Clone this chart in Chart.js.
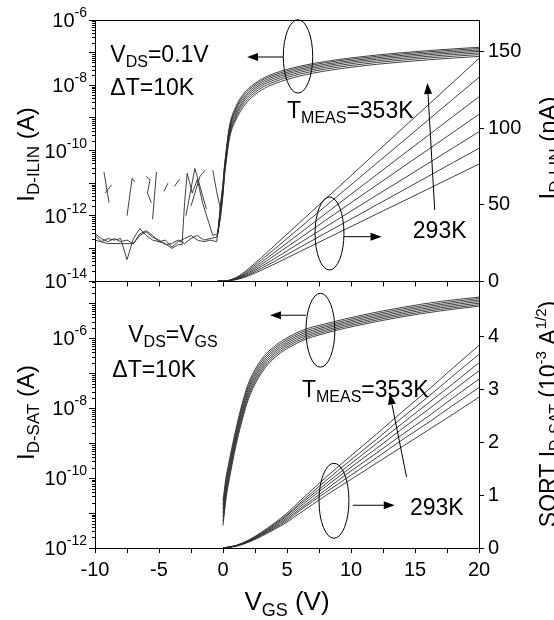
<!DOCTYPE html>
<html>
<head>
<meta charset="utf-8">
<title>ID-VGS temperature sweep</title>
<script src="https://cdn.jsdelivr.net/npm/chart.js"></script>
<style>
body{margin:0;background:#fff;}
#wrap{position:relative;width:554px;height:620px;}
</style>
</head>
<body>
<div id="wrap"><canvas id="c" width="554" height="620"></canvas></div>
<script>
const FONT = "'Liberation Sans', Arial, Helvetica, sans-serif";
const CURVE = '#2b2b2b';

// measurement temperatures, 293 K .. 353 K
const TEMPS = [293, 303, 313, 323, 333, 343, 353];

// linear regime (VDS = 0.1 V), drain current in nA
const VGS_LIN = [-0.4, -0.2, 0, 0.1, 0.25, 0.5, 1, 1.5, 2, 3, 4, 6, 8, 10, 12, 14, 16, 18, 20];
const ILIN_293 = [0.0003, 0.0009, 0.0045, 0.014, 0.045, 0.23, 0.85, 1.9, 3.4, 7.1, 11.0, 19.2, 27.4, 35.6, 43.8, 51.9, 60.1, 68.3, 76.5];
const ILIN_303 = [0.0003, 0.001, 0.005, 0.016, 0.052, 0.27, 1.0, 2.3, 4.0, 8.3, 12.7, 22.0, 31.3, 40.5, 49.8, 59.0, 68.3, 77.6, 86.8];
const ILIN_313 = [0.0003, 0.0012, 0.006, 0.018, 0.06, 0.31, 1.2, 2.7, 4.7, 9.6, 14.5, 24.9, 35.3, 45.7, 56.1, 66.4, 76.8, 87.2, 97.6];
const ILIN_323 = [0.0003, 0.0014, 0.007, 0.02, 0.07, 0.36, 1.4, 3.1, 5.4, 10.9, 16.5, 28.0, 39.6, 51.2, 62.7, 74.3, 85.8, 97.4, 109.0];
const ILIN_333 = [0.0003, 0.0016, 0.008, 0.023, 0.08, 0.42, 1.7, 3.6, 6.2, 12.3, 18.5, 31.2, 44.0, 56.7, 69.5, 82.3, 95.0, 107.8, 120.5];
const ILIN_343 = [0.0003, 0.0018, 0.009, 0.026, 0.09, 0.48, 1.9, 4.2, 7.1, 13.8, 20.7, 34.8, 48.9, 62.9, 77.0, 91.0, 105.1, 119.2, 133.2];
const ILIN_353 = [0.0003, 0.002, 0.01, 0.03, 0.1, 0.55, 2.2, 4.8, 8.0, 15.3, 23.0, 38.3, 53.6, 68.9, 84.3, 99.6, 114.9, 130.2, 145.6];

// off-state noise floor at VDS = 0.1 V, A
const VGS_OFF_A = [-10, -9.5, -9, -8.5, -8, -7.5, -7, -6.5, -6, -5.5, -5, -4.5, -4, -3.5, -3, -2.5, -2, -1.5, -1, -0.5, -0.4];
const IOFF_A = [2.5e-13, 1.6e-13, 2.0e-13, 1.8e-13, 2.0e-13, 4.5e-14, 2.0e-13, 4.0e-13, 2.5e-13, 1.8e-13, 1.6e-13, 1.8e-13, 1.1e-13, 1.6e-13, 2.0e-13, 2.5e-13, 1.8e-13, 1.6e-13, 1.8e-13, 1.6e-13, 3.0e-13];
const IOFF_C = [2.8e-13, 2.0e-13, 1.6e-13, 2.0e-13, 1.6e-13, 1.8e-13, 1.4e-13, 2.5e-13, 3.2e-13, 2.2e-13, 1.8e-13, 1.3e-13, 1.4e-13, 1.8e-13, 1.4e-13, 2.0e-13, 2.5e-13, 1.8e-13, 2.0e-13, 2.2e-13, 3.0e-13];
const VGS_OFF_B = [-10, -9, -8, -7, -6.5, -6, -5.5, -5, -4.5, -4, -3.5, -3.2, -3.0, -2.8, -2.4, -2.0, -1.6, -1.2, -0.8, -0.4];
const IOFF_B = [1.8e-13, 1.4e-13, 1.4e-13, 1.4e-13, 2.8e-13, 3.5e-13, 2.5e-13, 1.6e-13, 1.4e-13, 1.0e-13, 1.3e-13, 1.3e-13, 2.5e-12, 2.0e-11, 5.0e-12, 1.3e-11, 2.5e-12, 7.9e-13, 2.5e-13, 2.8e-13];
// broken (partly negative) off-state sweeps, null = gap
const VGS_SPIKE = [-9.3, -8.9, null, -9.2, -8.7, null, -7.5, -7.1, -6.9, null, -6.0, -5.7, -5.9, -5.6, null, -5.5, -5.2, null, -4.6, -4.3, null, -3.8, -3.4, null, -2.9, -2.2, -1.9, -1.3, null, -2.5, -1.8, -1.4, null, -0.8, -0.5, -0.2];
const ISPIKE = [2.2e-11, 2.5e-12, null, 5.0e-12, 8.9e-12, null, 1.0e-12, 1.4e-11, 1.1e-11, null, 1.6e-11, 1.3e-11, 5.0e-12, 2.5e-12, null, 7.9e-13, 2.2e-11, null, 5.6e-12, 1.0e-11, null, 7.9e-12, 1.3e-11, null, 1.0e-12, 2.8e-11, 1.1e-11, 1.6e-12, null, 2.0e-12, 1.6e-11, 2.5e-11, null, 2.5e-11, 5.6e-12, 1.6e-12];

// saturation regime (VDS = VGS), drain current in A
const VGS_SAT = [0, 0.25, 0.5, 1, 1.5, 2, 3, 4, 6, 8, 11, 14, 17, 20];
const ISAT_293 = [4.37e-12, 2.82e-11, 9.55e-11, 8.13e-10, 4.57e-9, 1.88e-8, 1.01e-7, 2.72e-7, 7.94e-7, 1.40e-6, 2.54e-6, 4.12e-6, 6.10e-6, 8.32e-6];
const ISAT_303 = [5.75e-12, 3.55e-11, 1.17e-10, 9.77e-10, 5.50e-9, 2.24e-8, 1.17e-7, 3.09e-7, 8.91e-7, 1.55e-6, 2.82e-6, 4.57e-6, 6.76e-6, 9.12e-6];
const ISAT_313 = [7.59e-12, 4.47e-11, 1.45e-10, 1.17e-9, 6.61e-9, 2.66e-8, 1.36e-7, 3.51e-7, 1.00e-6, 1.72e-6, 3.13e-6, 5.07e-6, 7.50e-6, 1.01e-5];
const ISAT_323 = [1.00e-11, 5.62e-11, 1.78e-10, 1.41e-9, 7.94e-9, 3.16e-8, 1.58e-7, 3.98e-7, 1.12e-6, 1.91e-6, 3.47e-6, 5.62e-6, 8.32e-6, 1.12e-5];
const ISAT_333 = [1.32e-11, 7.08e-11, 2.19e-10, 1.70e-9, 9.55e-9, 3.76e-8, 1.84e-7, 4.52e-7, 1.26e-6, 2.11e-6, 3.85e-6, 6.24e-6, 9.23e-6, 1.24e-5];
const ISAT_343 = [1.74e-11, 8.91e-11, 2.69e-10, 2.04e-9, 1.15e-8, 4.47e-8, 2.14e-7, 5.13e-7, 1.41e-6, 2.34e-6, 4.27e-6, 6.92e-6, 1.02e-5, 1.38e-5];
const ISAT_353 = [2.29e-11, 1.12e-10, 3.31e-10, 2.45e-9, 1.38e-8, 5.31e-8, 2.48e-7, 5.82e-7, 1.58e-6, 2.60e-6, 4.73e-6, 7.67e-6, 1.14e-5, 1.51e-5];

// saturation regime, SQRT(ID) in 1e-3 A^1/2
const VGS_SQRT = [0, 1, 2, 3, 4, 5, 6, 8, 10, 12, 14, 16, 18, 20];
const SQRT_293 = [0, 0.03, 0.11, 0.22, 0.35, 0.49, 0.66, 0.99, 1.30, 1.61, 1.92, 2.23, 2.54, 2.86];
const SQRT_303 = [0, 0.04, 0.12, 0.24, 0.37, 0.52, 0.71, 1.05, 1.38, 1.71, 2.05, 2.37, 2.71, 3.04];
const SQRT_313 = [0, 0.04, 0.12, 0.25, 0.39, 0.55, 0.74, 1.10, 1.46, 1.80, 2.15, 2.49, 2.85, 3.20];
const SQRT_323 = [0, 0.04, 0.13, 0.26, 0.41, 0.58, 0.78, 1.16, 1.53, 1.89, 2.26, 2.62, 2.99, 3.36];
const SQRT_333 = [0, 0.04, 0.14, 0.27, 0.43, 0.61, 0.82, 1.21, 1.60, 1.98, 2.36, 2.74, 3.12, 3.51];
const SQRT_343 = [0, 0.04, 0.14, 0.28, 0.45, 0.63, 0.85, 1.27, 1.67, 2.06, 2.47, 2.86, 3.27, 3.67];
const SQRT_353 = [0, 0.05, 0.15, 0.30, 0.47, 0.66, 0.89, 1.33, 1.75, 2.16, 2.58, 2.99, 3.42, 3.84];

// axis ticks
const TOP_LOG_LABELS = [-14, -12, -10, -8, -6];
const BOT_LOG_LABELS = [-12, -10, -8, -6];
const TOP_LIN_TICKS = [0, 50, 100, 150];
const BOT_SQRT_TICKS = [0, 1, 2, 3, 4];

const ILIN = [ILIN_293, ILIN_303, ILIN_313, ILIN_323, ILIN_333, ILIN_343, ILIN_353];
const ISAT = [ISAT_293, ISAT_303, ISAT_313, ISAT_323, ISAT_333, ISAT_343, ISAT_353];
const SQRT = [SQRT_293, SQRT_303, SQRT_313, SQRT_323, SQRT_333, SQRT_343, SQRT_353];

function pts(xs, ys, k) {
  return xs.map((x, i) => ({x: x, y: ys[i] == null ? null : ys[i] * (k || 1)}));
}
function curve(label, data, axis, smooth) {
  return {label: label, data: data, yAxisID: axis, borderColor: CURVE, borderWidth: 0.9,
    pointRadius: 0, fill: false, spanGaps: false,
    cubicInterpolationMode: smooth ? 'monotone' : 'default', tension: 0};
}

const datasets = [];
TEMPS.forEach((t, i) => {
  datasets.push(curve(t + ' K lin log', pts(VGS_LIN, ILIN[i], 1e-9), 'yTopL', true));
  datasets.push(curve(t + ' K lin', pts(VGS_LIN, ILIN[i]), 'yTopR', true));
  datasets.push(curve(t + ' K sat log', pts(VGS_SAT, ISAT[i]), 'yBotL', true));
  datasets.push(curve(t + ' K sqrt', pts(VGS_SQRT, SQRT[i]), 'yBotR', true));
});
datasets.push(curve('off A', pts(VGS_OFF_A, IOFF_A), 'yTopL', false));
datasets.push(curve('off B', pts(VGS_OFF_B, IOFF_B), 'yTopL', false));
datasets.push(curve('off C', pts(VGS_OFF_A, IOFF_C), 'yTopL', false));
datasets.push(curve('off broken', pts(VGS_SPIKE, ISPIKE), 'yTopL', false));

// ---------- text helpers ----------
function T(t, size) { return {t: t, size: size, dy: 0}; }
function sub(t, size, dy) { return {t: t, size: size, dy: dy}; }
function sup(t, size, dy) { return {t: t, size: size, dy: -dy}; }
function rich(ctx, parts, x, y, align, angle) {
  ctx.save();
  ctx.translate(x, y);
  if (angle) ctx.rotate(angle);
  ctx.textBaseline = 'alphabetic';
  ctx.textAlign = 'left';
  let w = 0;
  parts.forEach(p => { ctx.font = p.size + 'px ' + FONT; p.w = ctx.measureText(p.t).width; w += p.w; });
  let cx = align === 'center' ? -w / 2 : align === 'right' ? -w : 0;
  parts.forEach(p => { ctx.font = p.size + 'px ' + FONT; ctx.fillText(p.t, cx, p.dy); cx += p.w; });
  ctx.restore();
}
function seg(ctx, x1, y1, x2, y2) {
  ctx.beginPath(); ctx.moveTo(x1, y1); ctx.lineTo(x2, y2); ctx.stroke();
}
function arrow(ctx, x1, y1, x2, y2) {
  const a = Math.atan2(y2 - y1, x2 - x1), L = 11, W = 4;
  const bx = x2 - L * Math.cos(a), by = y2 - L * Math.sin(a);
  seg(ctx, x1, y1, bx, by);
  ctx.beginPath();
  ctx.moveTo(x2, y2);
  ctx.lineTo(bx + W * Math.sin(a), by - W * Math.cos(a));
  ctx.lineTo(bx - W * Math.sin(a), by + W * Math.cos(a));
  ctx.closePath(); ctx.fill();
}
function oval(ctx, xs, ys, cx, cy, rx, ry) {
  const px = xs.getPixelForValue(cx), py = ys.getPixelForValue(cy);
  const rpx = Math.abs(xs.getPixelForValue(cx + rx) - px);
  const rpy = Math.abs(ys.getPixelForValue(cy + ry) - py);
  ctx.beginPath(); ctx.ellipse(px, py, rpx, rpy, 0, 0, Math.PI * 2); ctx.stroke();
}
function arrowData(ctx, xs, ys, x1, y1, x2, y2) {
  arrow(ctx, xs.getPixelForValue(x1), ys.getPixelForValue(y1), xs.getPixelForValue(x2), ys.getPixelForValue(y2));
}
function textData(ctx, xs, ys, parts, x, y) {
  rich(ctx, parts, xs.getPixelForValue(x), ys.getPixelForValue(y), 'left');
}

const decor = {
  id: 'decor',
  afterDraw(chart) {
    const ctx = chart.ctx, a = chart.chartArea, s = chart.scales;
    const xs = s.x, tl = s.yTopL, bl = s.yBotL, tr = s.yTopR, br = s.yBotR;
    ctx.save();
    ctx.strokeStyle = '#000';
    ctx.fillStyle = '#000';
    ctx.lineWidth = 1;

    // frame top and panel separator
    const sep = Math.round(tl.bottom) + 0.5;
    seg(ctx, a.left, a.top + 0.5, a.right, a.top + 0.5);
    seg(ctx, a.left, sep, a.right, sep);
    xs.ticks.forEach(t => {
      const p = Math.round(xs.getPixelForValue(t.value)) + 0.5;
      seg(ctx, p, sep, p, sep + 5);
    });

    // minor log ticks and superscript labels
    [[tl, TOP_LOG_LABELS], [bl, BOT_LOG_LABELS]].forEach(([sc, labels]) => {
      for (let e = -15; e <= -4; e++) {
        for (let k = 2; k <= 9; k++) {
          const v = k * Math.pow(10, e);
          if (v <= sc.min || v >= sc.max) continue;
          const py = Math.round(sc.getPixelForValue(v)) + 0.5;
          seg(ctx, a.left - 3, py, a.left, py);
        }
      }
      labels.forEach(e => {
        const py = sc.getPixelForValue(Math.pow(10, e));
        rich(ctx, [T('10', 20), sup(String(e), 14, 10)], a.left - 8, py + 7, 'right');
      });
    });

    // axis titles
    rich(ctx, [T('I', 24), sub('D-ILIN', 17, 5), T(' (A)', 24)], 34, (a.top + tl.bottom) / 2 + 4, 'center', -Math.PI / 2);
    rich(ctx, [T('I', 24), sub('D-SAT', 17, 5), T(' (A)', 24)], 34, (bl.top + a.bottom) / 2 - 2, 'center', -Math.PI / 2);
    rich(ctx, [T('I', 24), sub('D-LIN', 17, 5), T(' (nA)', 24)], 556, 148, 'center', -Math.PI / 2);
    rich(ctx, [T('SQRT I', 23), sub('D-SAT', 16, 5), T(' (10', 23), sup('-3', 15, 10), T(' A', 23), sup('1/2', 15, 10), T(')', 23)],
      556, 414, 'center', -Math.PI / 2);
    rich(ctx, [T('V', 26), sub('GS', 18, 6), T(' (V)', 26)], (a.left + a.right) / 2, 610, 'center');

    // top panel annotations (x, right linear axis)
    textData(ctx, xs, tr, [T('V', 23), sub('DS', 16, 5), T('=0.1V', 23)], -8.8, 143.3);
    textData(ctx, xs, tr, [T('\u0394T=10K', 23)], -8.8, 121.7);
    textData(ctx, xs, tr, [T('T', 23), sub('MEAS', 16, 5), T('=353K', 23)], 5.0, 106.6);
    textData(ctx, xs, tr, [T('293K', 23)], 14.83, 28.1);
    oval(ctx, xs, tr, 5.86, 146.9, 1.15, 24.0);
    oval(ctx, xs, tr, 8.32, 31.1, 1.13, 23.9);
    arrowData(ctx, xs, tr, 4.69, 146.5, 1.88, 146.5);
    arrowData(ctx, xs, tr, 9.45, 29.0, 12.39, 29.0);
    arrowData(ctx, xs, tr, 16.54, 46.4, 15.97, 129.5);

    // bottom panel annotations (x, right sqrt axis)
    textData(ctx, xs, br, [T('V', 23), sub('DS', 16, 5), T('=V', 23), sub('GS', 16, 5)], -7.4, 3.905);
    textData(ctx, xs, br, [T('\u0394T=10K', 23)], -8.65, 3.242);
    textData(ctx, xs, br, [T('T', 23), sub('MEAS', 16, 5), T('=353K', 23)], 6.17, 2.862);
    textData(ctx, xs, br, [T('293K', 23)], 14.6, 0.62);
    oval(ctx, xs, br, 7.61, 4.127, 1.13, 0.70);
    oval(ctx, xs, br, 8.67, 0.895, 1.17, 0.711);
    arrowData(ctx, xs, br, 6.48, 4.411, 3.67, 4.411);
    arrowData(ctx, xs, br, 10.15, 0.81, 13.42, 0.81);
    arrowData(ctx, xs, br, 14.34, 1.346, 13.03, 2.927);
    ctx.restore();
  }
};

const tickFont = {family: FONT, size: 20};
function decades(lo, hi) {
  return scale => {
    const out = [];
    for (let e = lo; e <= hi; e++) out.push({value: Math.pow(10, e)});
    scale.ticks = out;
  };
}
function logAxis(weight, min, max, lo, hi) {
  return {
    type: 'logarithmic', position: 'left', stack: 'left', stackWeight: weight,
    min: min, max: max,
    afterBuildTicks: decades(lo, hi),
    ticks: {display: false},
    grid: {drawOnChartArea: false, drawTicks: true, tickLength: 6, color: '#000'},
    border: {display: true, color: '#000', width: 1},
    afterFit: sc => { sc.width = 95; }
  };
}
function linAxis(weight, max, tickValues) {
  return {
    type: 'linear', position: 'right', stack: 'right', stackWeight: weight,
    min: 0, max: max,
    afterBuildTicks: sc => { sc.ticks = tickValues.map(v => ({value: v})); },
    ticks: {font: tickFont, color: '#000', padding: 4, autoSkip: false},
    grid: {drawOnChartArea: false, drawTicks: true, tickLength: 5, color: '#000'},
    border: {display: true, color: '#000', width: 1},
    afterFit: sc => { sc.width = 75; }
  };
}

new Chart(document.getElementById('c'), {
  type: 'line',
  data: {datasets: datasets},
  plugins: [decor],
  options: {
    responsive: false,
    animation: false,
    events: [],
    layout: {padding: {top: 20, left: 0, right: 0, bottom: 0}},
    plugins: {legend: {display: false}, tooltip: {enabled: false}},
    scales: {
      x: {
        type: 'linear', position: 'bottom', min: -10, max: 20,
        ticks: {stepSize: 2.5, autoSkip: false, maxRotation: 0, font: tickFont, color: '#000', padding: 5,
          callback: v => (v % 5 === 0 ? String(v) : '')},
        grid: {drawOnChartArea: false, drawTicks: true, tickLength: 5, color: '#000'},
        border: {display: true, color: '#000', width: 1},
        afterFit: sc => { sc.height = 72; }
      },
      yBotL: logAxis(267, 1e-12, 4.37e-5, -12, -5),
      yTopL: logAxis(261, 1e-14, 1e-6, -14, -6),
      yTopR: linAxis(261, 170.7, TOP_LIN_TICKS),
      yBotR: linAxis(267, 5.06, BOT_SQRT_TICKS)
    }
  }
});
</script>
</body>
</html>
